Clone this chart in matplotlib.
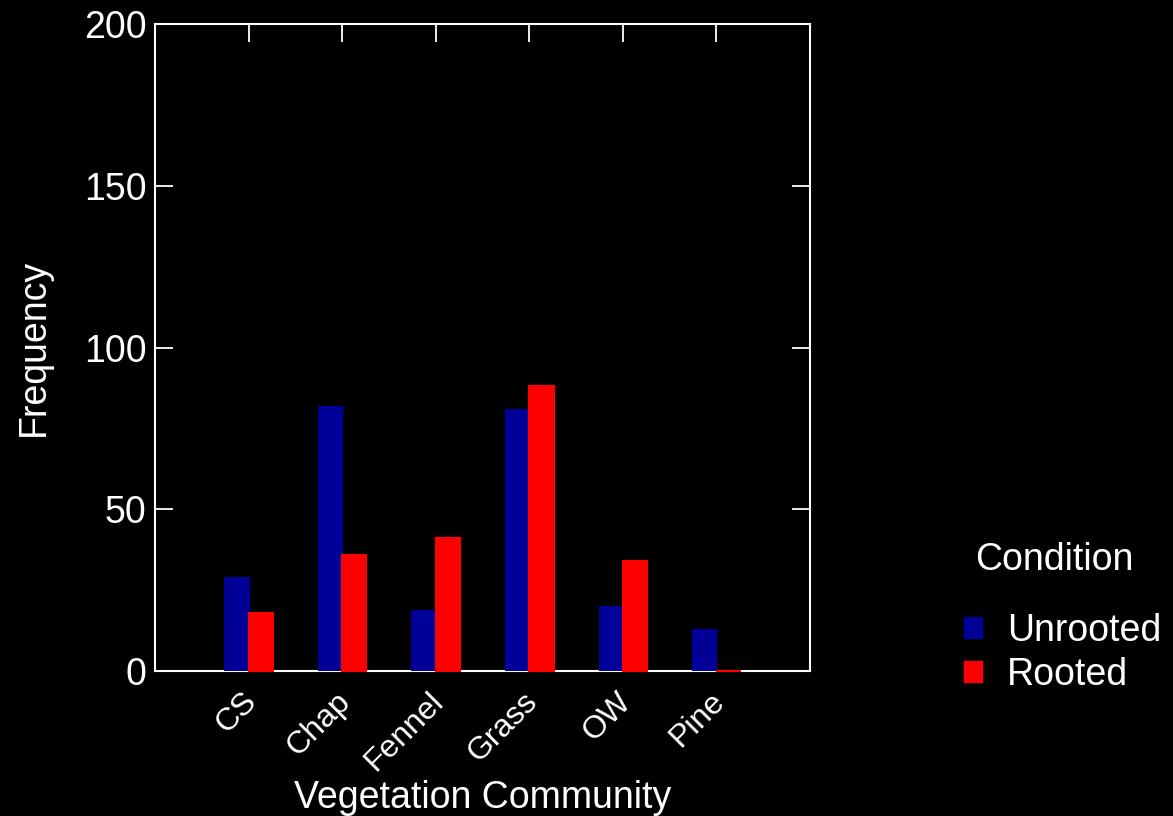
import numpy as np
import matplotlib
matplotlib.use("Agg")
import matplotlib.pyplot as plt
import matplotlib.transforms as mtransforms
from matplotlib.patches import Patch


# ----------------------------
# Data
# ----------------------------

communities = ["CS", "Chap", "Fennel", "Grass", "OW", "Pine"]
unrooted    = [29, 82, 19, 81, 20, 13]
rooted      = [18, 36, 41, 88, 34, 0]
conditions  = ["Unrooted", "Rooted"]
y_ticks     = [0, 50, 100, 150, 200]

BLUE = "#000099"
RED  = "#ff0000"
FG   = "white"

plt.rcParams["font.family"] = ["Liberation Sans", "DejaVu Sans"]


# ----------------------------
# Figure
# ----------------------------

fig = plt.figure(figsize=(11.73, 8.16), dpi=100, facecolor="black")
ax = fig.add_axes([155 / 1173, 1 - 671 / 816, 655 / 1173, 647 / 816])
ax.set_facecolor("black")

x = np.arange(1, len(communities) + 1)
w = 0.26
ax.bar(x - w / 2, unrooted, width=w, color=BLUE, edgecolor=BLUE, linewidth=0.8, zorder=3)
ax.bar(x + w / 2, rooted, width=w, color=RED, edgecolor=RED, linewidth=1.5,
       zorder=3, clip_on=False)

ax.set_xlim(0, 7)
ax.set_ylim(0, 200)

for s in ax.spines.values():
    s.set_color(FG)
    s.set_linewidth(1.5)

ax.set_yticks(y_ticks)
ax.tick_params(axis="y", which="both", direction="in", length=13, width=1.3,
               colors=FG, labelsize=27, left=True, right=True, pad=6)
ax.set_xticks(x)
ax.set_xticklabels(communities, rotation=45, ha="right", va="top",
                   rotation_mode="anchor", fontsize=23, color=FG)
ax.tick_params(axis="x", which="both", direction="in", length=13, width=1.3,
               colors=FG, top=True, bottom=True, pad=11)
shift = mtransforms.ScaledTranslation(-7 / 100, 0, fig.dpi_scale_trans)
for t in ax.get_xticklabels():
    t.set_transform(t.get_transform() + shift)

ax.set_xlabel("Vegetation Community", fontsize=27, color=FG, va="top")
ax.xaxis.set_label_coords(0.5, -0.168)
ax.set_ylabel("Frequency", fontsize=27, color=FG, labelpad=23)


# ----------------------------
# Legend
# ----------------------------

fig.text(975 / 1173, 1 - 560 / 816, "Condition", fontsize=27, color=FG,
         ha="left", va="center")

handles = [Patch(facecolor=BLUE, edgecolor=BLUE), Patch(facecolor=RED, edgecolor=RED)]
leg = fig.legend(handles, conditions, loc="upper left",
                 bbox_to_anchor=(938 / 1173, 1 - 587 / 816), frameon=False,
                 fontsize=27, handlelength=0.48, handleheight=0.48,
                 handletextpad=0.67, labelspacing=0.2, borderpad=0.2)
for t in leg.get_texts():
    t.set_color(FG)

fig.savefig("out.png", dpi=100, facecolor="black")
